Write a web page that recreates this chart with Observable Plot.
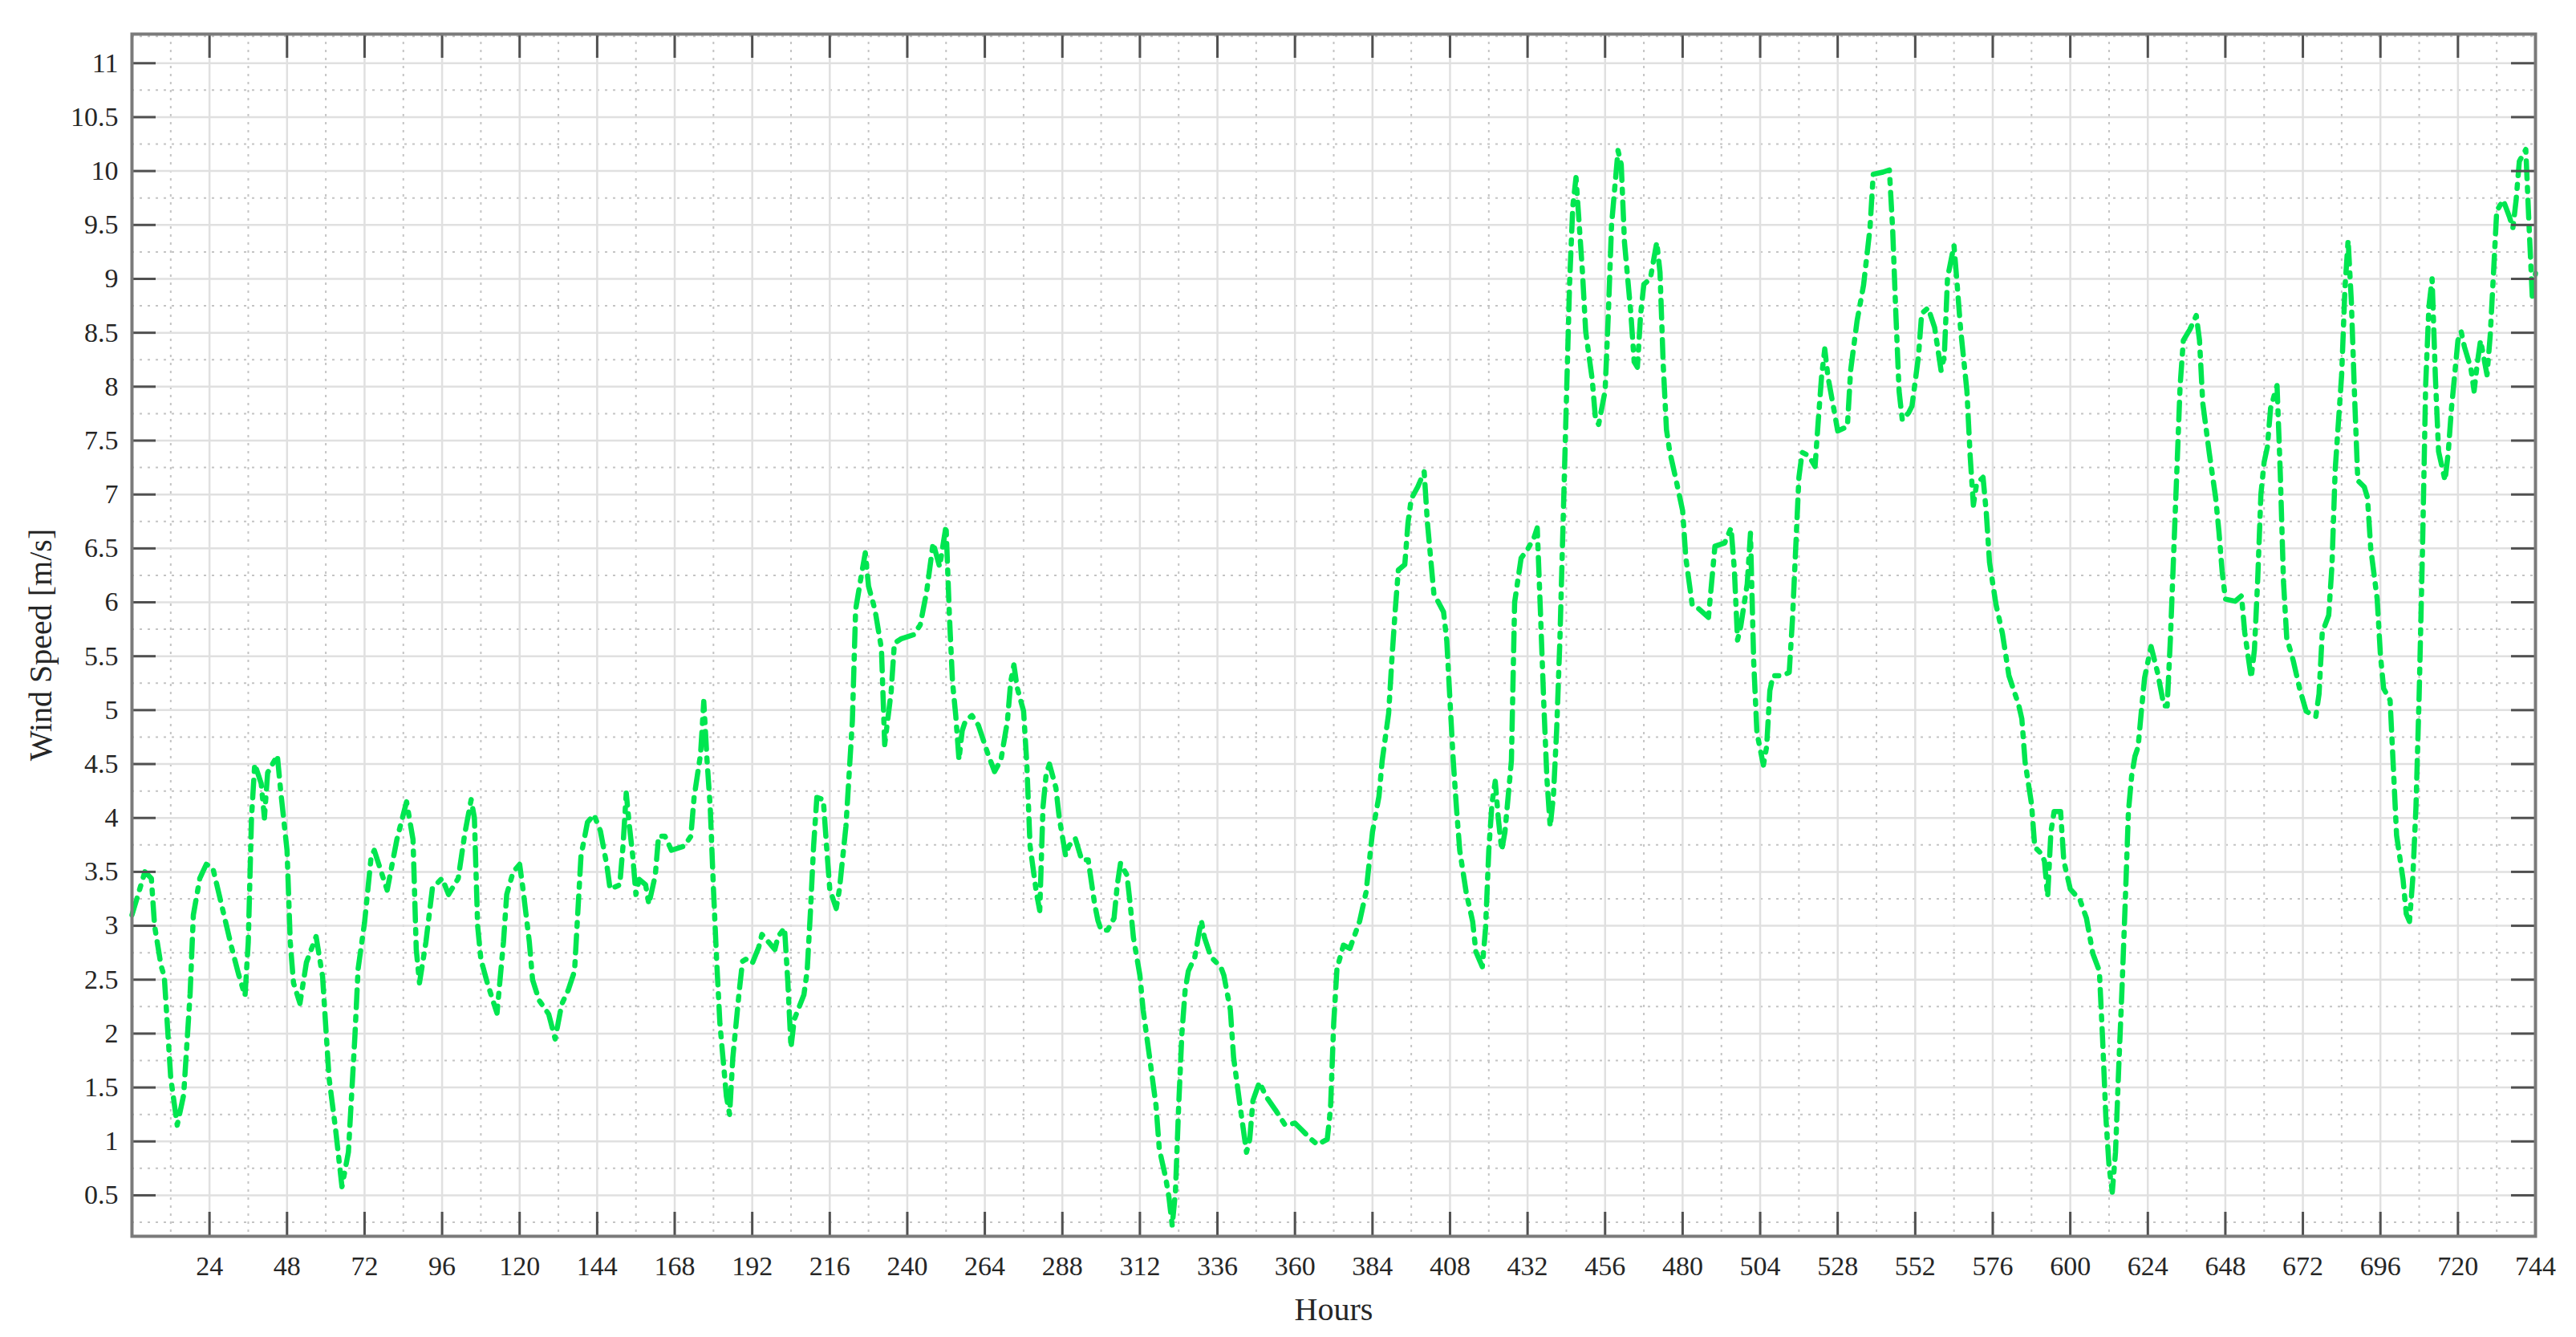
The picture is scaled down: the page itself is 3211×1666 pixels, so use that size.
<!DOCTYPE html>
<html><head><meta charset="utf-8">
<script src="https://cdn.jsdelivr.net/npm/d3@7"></script>
<script src="https://cdn.jsdelivr.net/npm/@observablehq/plot@0.6"></script>
<style>html,body{margin:0;padding:0;background:#fff;overflow:hidden}</style>
</head><body><div id="chart"></div>
<script>
const hours = [0,4,6,7,9,10,11,12,14,16,18,19,21,23,25,28,31,33,35,36,37,38,40,41,42,45,46,48,49,50,52,54,57,59,61,63,65,67,69,70,72,74,75,79,82,85,87,88,89,91,93,96,98,101,103,105,106,107,108,110,112,113,115,116,118,120,121,123,
124,126,129,131,133,135,137,138,139,141,143,145,147,148,151,152,153,154,155,156,157,159,160,162,163,165,167,171,173,174,176,177,178,179,180,181,182,184,185,186,188,189,190,192,194,195,197,199,200,202,203,204,205,208,209,210,211,212,214,215,216,218,219,221,222,223,224,226,227,228,230,232,233,235,236,238,242,244,246,248,250,
252,253,254,255,256,257,258,260,262,265,267,269,271,272,273,274,276,277,278,280,281,282,283,284,286,287,289,290,292,294,296,298,299,300,302,304,305,306,308,309,310,312,313,315,317,318,320,321,322,323,324,325,326,327,329,331,332,334,337,338,340,341,343,345,346,347,349,351,354,357,360,362,365,367,370,371,
372,373,375,377,380,382,384,386,387,389,390,391,392,394,395,396,398,400,401,402,403,406,407,408,409,410,411,413,415,416,418,419,420,421,422,423,424,425,427,428,430,432,434,435,436,437,438,439,440,441,442,443,444,445,446,447,448,449,450,452,453,454,456,457,458,460,461,462,464,465,466,467,468,470,472,473,474,475,476,478,480,481,483,485,488,489,490,493,495,496,497,498,500,501,502,503,505,506,507,508,511,513,514,515,516,517,519,521,522,523,524,525,527,528,531,532,534,536,538,539,542,544,545,546,547,548,550,551,553,554,556,558,560,561,562,564,565,566,568,569,570,571,573,574,575,577,579,581,584,585,586,588,589,591,592,593,594,595,597,598,600,603,605,607,609,610,611,612,613,614,615,616,617,618,619,620,621,622,623,625,627,629,630,631,632,633,634,635,637,639,640,641,643,645,646,647,648,651,653,654,656,657,658,659,660,661,662,664,665,666,667,669,671,673,676,677,678,680,681,682,684,685,686,687,688,689,691,692,693,695,696,697,699,700,701,703,704,705,706,707,708,709,710,711,712,713,714,716,717,718,720,721,722,724,725,726,727,729,730,731,732,734,736,737,738,739,741,742,743,744];
const speed = [3.1,3.5,3.44,3.0,2.63,2.53,2.06,1.59,1.15,1.43,2.37,3.1,3.44,3.57,3.54,3.16,2.78,2.55,2.35,2.85,4.0,4.5,4.32,4.0,4.42,4.58,4.26,3.7,2.85,2.47,2.28,2.66,2.9,2.53,1.59,1.12,0.58,0.9,1.97,2.6,3.03,3.63,3.7,3.33,3.8,4.15,3.8,2.78,2.47,2.85,3.35,3.44,3.29,3.44,3.85,4.17,4.0,3.0,2.69,2.47,2.28,2.19,2.85,3.29,3.5,3.57,3.35,2.85,
2.5,2.31,2.18,1.95,2.27,2.4,2.58,3.12,3.65,3.96,4.03,3.88,3.56,3.34,3.38,3.74,4.23,3.92,3.65,3.29,3.43,3.38,3.2,3.47,3.83,3.83,3.7,3.74,3.83,4.19,4.59,5.08,4.54,4.1,3.34,2.67,2.09,1.42,1.25,1.78,2.4,2.67,2.69,2.65,2.8,2.92,2.85,2.78,2.9,2.98,2.49,1.87,2.13,2.36,2.58,3.12,3.74,4.19,4.17,3.74,3.34,3.16,3.34,3.92,4.41,4.9,5.93,6.29,6.46,6.15,5.93,5.57,4.68,5.17,5.62,5.66,5.7,5.79,6.1,6.55,6.33,
6.71,5.9,5.26,4.95,4.54,4.81,4.9,4.95,4.86,4.59,4.43,4.54,4.9,5.26,5.42,5.21,4.99,4.5,3.74,3.3,3.14,4.1,4.41,4.5,4.28,4.01,3.65,3.74,3.81,3.61,3.61,3.2,3.05,2.96,2.96,3.07,3.38,3.58,3.47,3.2,2.89,2.54,2.22,1.78,1.33,0.93,0.66,0.48,0.22,0.53,1.33,2.0,2.4,2.58,2.71,3.05,2.89,2.71,2.62,2.54,2.22,1.78,1.33,0.9,1.02,1.38,1.55,1.42,1.29,1.15,1.17,1.11,1.02,0.97,1.02,1.3,
2.1,2.6,2.82,2.79,3.04,3.31,3.87,4.2,4.53,4.97,5.47,5.91,6.3,6.35,6.74,6.96,7.07,7.21,6.74,6.41,6.08,5.91,5.64,5.08,4.53,4.09,3.7,3.31,3.04,2.76,2.62,2.98,3.7,4.14,4.34,3.98,3.7,3.87,4.53,6.0,6.41,6.49,6.6,6.69,5.9,5.08,4.36,3.92,4.2,4.81,5.64,6.74,7.85,8.95,9.67,9.94,9.5,9.06,8.51,8.07,7.71,7.65,7.96,8.67,9.5,10.19,10.06,9.34,8.67,8.23,8.18,8.67,8.95,9.0,9.34,9.06,8.2,7.6,7.4,7.13,6.85,6.41,5.97,5.94,5.86,6.19,6.52,6.55,6.69,6.31,5.65,5.78,6.17,6.64,5.45,4.79,4.49,4.66,5.18,5.32,5.32,5.35,5.84,6.5,7.16,7.39,7.36,7.26,7.69,8.09,8.35,8.09,7.76,7.59,7.63,8.15,8.61,8.94,9.47,9.97,9.99,10.01,9.47,8.68,7.96,7.69,7.76,7.82,8.28,8.68,8.73,8.55,8.15,8.28,9.01,9.31,8.94,8.55,7.96,7.36,6.9,7.1,7.16,6.83,6.37,5.98,5.71,5.32,5.05,4.92,4.52,4.13,3.73,3.67,3.6,3.27,3.87,4.06,4.06,3.6,3.34,3.24,3.07,2.74,2.58,1.95,1.23,0.77,0.53,0.9,1.69,2.41,3.21,4.06,4.39,4.57,4.66,4.99,5.3,5.59,5.35,5.04,5.04,5.67,6.45,7.23,8.01,8.43,8.53,8.66,8.43,7.85,7.39,6.97,6.66,6.29,6.03,6.01,6.06,5.72,5.3,5.56,6.2,7.0,7.3,7.44,7.8,8.01,7.2,6.19,5.67,5.46,5.2,4.99,4.94,5.15,5.72,5.88,6.34,7.23,8.11,8.9,9.36,8.79,7.91,7.13,7.07,6.97,6.5,6.03,5.51,5.2,5.09,4.47,3.84,3.43,3.11,3.04,3.43,4.1,5.15,6.45,8.01,8.74,9.0,8.1,7.4,7.13,7.39,7.8,8.43,8.51,8.37,8.17,7.96,8.22,8.43,8.11,8.48,9.05,9.63,9.73,9.57,9.47,9.73,10.09,10.2,9.5,8.84,9.05];
const xTickLabels = [24,48,72,96,120,144,168,192,216,240,264,288,312,336,360,384,408,432,456,480,504,528,552,576,600,624,648,672,696,720,744];
const yTickLabels = [0.5,1,1.5,2,2.5,3,3.5,4,4.5,5,5.5,6,6.5,7,7.5,8,8.5,9,9.5,10,10.5,11];
const xLabel = "Hours";
const yLabel = "Wind Speed [m/s]";

const W = 3211, H = 1666;
const mL = 164, mR = 51, mT = 42, mB = 126;
const innerW = W - mL - mR, innerH = H - mT - mB;
const tickLen = 30;

const data = hours.map((h, i) => ({h, v: speed[i]}));
const xMinor = d3.range(12, 744, 24);
const yMinor = d3.range(0.25, 11.3, 0.5);
const xInner = xTickLabels.filter(d => d < 744);

const chart = Plot.plot({
  width: W, height: H,
  marginLeft: mL, marginRight: mR, marginTop: mT, marginBottom: mB,
  style: {fontFamily: "'Liberation Serif', 'Times New Roman', serif", fontSize: "34px", background: "#fff", color: "#262626"},
  x: {domain: [0, 744], label: null},
  y: {domain: [0.12, 11.27], label: null},
  marks: [
    Plot.ruleY(yMinor, {stroke: "#c4c4c4", strokeWidth: 2, strokeDasharray: "3,7"}),
    Plot.ruleX(xMinor, {stroke: "#c4c4c4", strokeWidth: 2, strokeDasharray: "3,7"}),
    Plot.ruleY(yTickLabels, {stroke: "#e0e0e0", strokeWidth: 2.5}),
    Plot.ruleX(xInner, {stroke: "#e0e0e0", strokeWidth: 2.5}),
    Plot.line(data, {x: "h", y: "v", stroke: "#00e650", strokeWidth: 6.5, strokeDasharray: "22,11,5,11", strokeLinejoin: "round"}),
    Plot.ruleX(xInner, {insetTop: innerH - tickLen, stroke: "#505050", strokeWidth: 3}),
    Plot.ruleX(xInner, {insetBottom: innerH - tickLen, stroke: "#505050", strokeWidth: 3}),
    Plot.ruleY(yTickLabels, {insetRight: innerW - tickLen, stroke: "#505050", strokeWidth: 3}),
    Plot.ruleY(yTickLabels, {insetLeft: innerW - tickLen, stroke: "#505050", strokeWidth: 3}),
    Plot.frame({stroke: "#7a7a7a", strokeWidth: 4}),
    Plot.axisX(xTickLabels, {anchor: "bottom", tickSize: 0, tickPadding: 24, tickFormat: d => String(d), fontSize: 34, fill: "#262626", label: null}),
    Plot.axisY(yTickLabels, {anchor: "left", tickSize: 0, tickPadding: 17, tickFormat: d => String(d), fontSize: 34, fill: "#262626", label: null}),
    Plot.text([xLabel], {text: d => d, frameAnchor: "bottom", textAnchor: "middle", dy: 104, fontSize: 40, fill: "#262626"}),
    Plot.text([yLabel], {text: d => d, frameAnchor: "left", textAnchor: "middle", rotate: -90, dx: -113, dy: 12, fontSize: 40, fill: "#262626"})
  ]
});
document.getElementById("chart").append(chart);
</script>
</body></html>
